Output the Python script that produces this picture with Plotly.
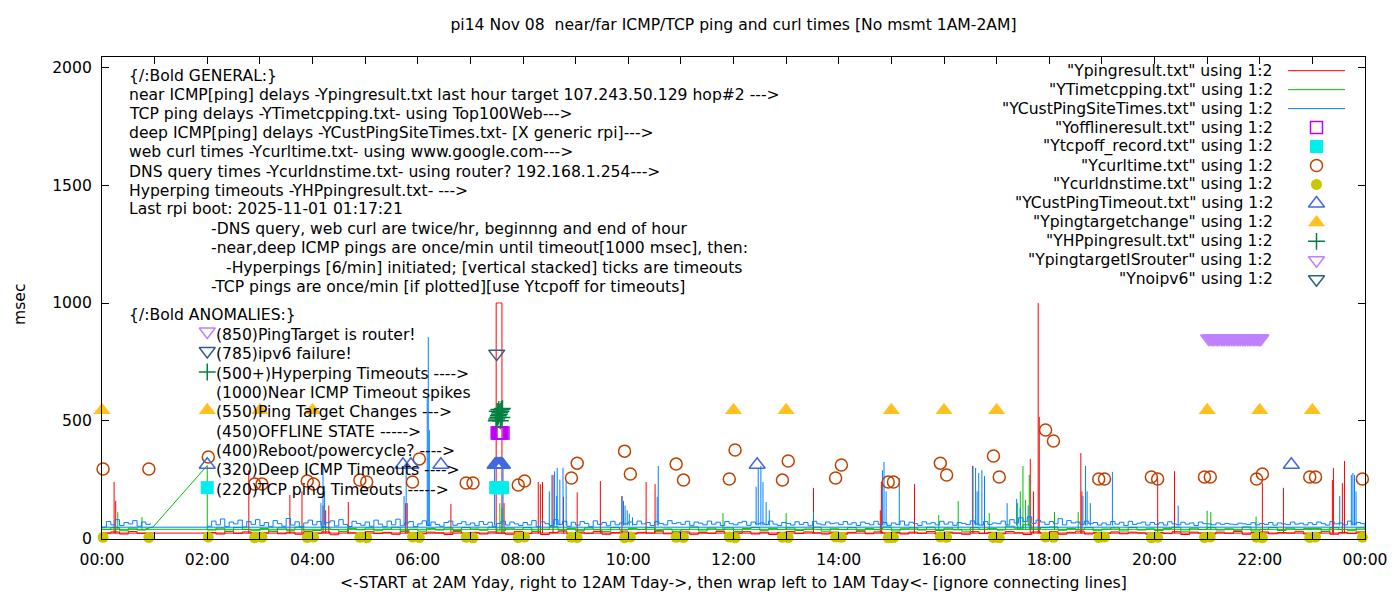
import plotly.graph_objects as go

FONT = "DejaVu Sans"
FS = 15.6

# ------------------------------------------------------------------
# Data: x = hour of day, y = msec.
# Main part runs 02:00 -> 24:00, then wraps to 00:00 -> ~01:00.
# ------------------------------------------------------------------
X_TICKS = [0, 1, 2, 3, 4, 5, 6, 7, 8, 9, 10, 11, 12, 13, 14, 15, 16, 17,
           18, 19, 20, 21, 22, 23, 24]
X_TICK_TEXT = ["00:00", "", "02:00", "", "04:00", "", "06:00", "", "08:00", "",
               "10:00", "", "12:00", "", "14:00", "", "16:00", "", "18:00", "",
               "20:00", "", "22:00", "", "00:00"]
Y_TICKS = [0, 500, 1000, 1500, 2000]

# deep ICMP (YCustPingSiteTimes) - 5 min samples, one row per hour 02..23
BLUE_MAIN = [
    [52, 74, 58, 83, 50, 70, 62, 78, 49, 72, 60, 80],
    [55, 68, 50, 76, 63, 52, 85, 57, 71, 50, 66, 78],
    [58, 72, 50, 67, 75, 53, 80, 60, 51, 73, 64, 56],
    [70, 52, 78, 61, 50, 74, 58, 82, 54, 66, 72, 50],
    [62, 75, 55, 70, 60, 52, 68, 74, 56, 63, 71, 58],
    [66, 54, 72, 60, 69, 52, 64, 74, 57, 70, 62, 55],
    [68, 58, 76, 50, 71, 63, 55, 80, 60, 73, 52, 69],
    [57, 72, 64, 50, 75, 60, 68, 54, 73, 58, 66, 62],
    [70, 59, 74, 62, 68, 55, 72, 64, 58, 76, 63, 67],
    [60, 73, 56, 70, 65, 58, 74, 61, 69, 55, 72, 63],
    [58, 67, 73, 56, 70, 62, 66, 59, 74, 61, 55, 68],
    [64, 57, 71, 60, 68, 54, 73, 62, 58, 70, 63, 66],
    [59, 72, 61, 67, 55, 70, 64, 58, 73, 60, 68, 56],
    [66, 60, 74, 57, 69, 63, 55, 71, 62, 67, 58, 73],
    [61, 70, 56, 68, 64, 59, 75, 62, 57, 72, 60, 66],
    [63, 74, 58, 80, 66, 88, 72, 92, 64, 78, 70, 60],
    [72, 62, 84, 58, 76, 66, 70, 60, 74, 63, 68, 57],
    [66, 58, 72, 61, 69, 55, 73, 60, 65, 70, 57, 68],
    [60, 67, 57, 71, 62, 58, 69, 61, 66, 55, 70, 63],
    [62, 58, 66, 60, 64, 61, 59, 65, 62, 60, 67, 58],
    [64, 60, 68, 57, 66, 62, 59, 70, 61, 65, 58, 67],
    [60, 70, 63, 57, 72, 62, 66, 58, 74, 61, 68, 63],
    [48],
]
BLUE_WRAP = [[48, 72, 58, 80, 55, 68, 62, 76, 52, 70, 60, 65]]
BLUE_SPIKE_T = [4.16, 4.20, 4.23, 5.74, 5.78, 6.18, 6.20, 6.22, 7.46, 7.62,
                8.50, 8.55, 8.60, 8.64, 8.65, 8.70, 8.76, 8.82,
                9.88, 9.91, 9.94, 9.98, 10.02, 10.08, 10.55, 10.57,
                12.43, 12.47, 12.52, 12.56, 12.62, 12.68, 13.52,
                14.83, 14.86, 14.90, 15.15, 16.54, 16.60, 16.63, 16.66, 16.72, 16.77,
                17.20, 17.38, 17.45, 17.60, 18.64, 18.69, 18.72, 18.78, 19.20,
                20.45, 23.52, 23.74, 23.77, 23.80, 23.83]
BLUE_SPIKE_V = [150, 312, 200, 180, 310, 597, 855, 460, 310, 300,
                200, 270, 285, 180, 300, 250, 300, 240,
                180, 160, 140, 120, 105, 90, 177, 308,
                220, 300, 308, 240, 155, 120, 112,
                290, 325, 200, 257, 308, 300, 200, 278, 290, 265,
                150, 168, 130, 140, 180, 308, 200, 150, 283,
                140, 180, 270, 278, 270, 200]

# near ICMP (Ypingresult) - 10 min samples, one row per hour 02..23
RED_MAIN = [
    [26, 19, 30, 22, 28, 17], [24, 31, 20, 27, 18, 29], [22, 28, 16, 30, 24, 20],
    [29, 21, 26, 18, 31, 23], [20, 27, 24, 17, 29, 22], [26, 19, 28, 23, 18, 30],
    [21, 29, 17, 26, 31, 19], [27, 22, 30, 18, 25, 28], [19, 26, 23, 31, 20, 27],
    [28, 18, 25, 22, 30, 21], [23, 29, 19, 27, 17, 26], [30, 21, 28, 24, 19, 27],
    [18, 26, 31, 20, 28, 23], [25, 19, 27, 22, 30, 18], [27, 23, 18, 29, 21, 26],
    [20, 30, 24, 17, 28, 22], [29, 18, 26, 31, 19, 25], [22, 28, 20, 27, 24, 18],
    [26, 21, 29, 17, 27, 23], [19, 27, 22, 30, 18, 26], [28, 20, 25, 23, 29, 19],
    [24, 30, 18, 26, 21, 28], [23],
]
RED_WRAP = [[23, 28, 19, 30, 22, 26]]
RED_SPIKE_T = [0.23, 0.26, 2.79, 3.57, 3.80, 4.20, 4.25, 4.31, 4.68, 5.77, 5.80,
               6.63, 7.64, 8.29, 8.33, 8.37, 8.57, 8.77, 9.03, 9.47, 9.88,
               10.34, 10.51, 13.52, 14.79, 14.81, 15.44, 16.55, 16.77,
               17.64, 17.70, 17.79, 17.81, 18.60, 18.62, 20.06, 20.38,
               22.05, 22.45, 23.38, 23.40, 23.57, 23.61]
RED_SPIKE_V = [240, 160, 290, 185, 200, 140, 120, 140, 155, 150, 150,
               147, 150, 240, 230, 240, 270, 177, 196, 244, 180,
               240, 231, 214, 120, 241, 231, 309, 257,
               338, 200, 1000, 517, 363, 200, 257, 286,
               235, 215, 248, 299, 235, 329]
# near ICMP timeouts (1000 msec) around 07:30
RED_TIMEOUT_T = [7.49, 7.51, 7.53, 7.55, 7.57, 7.60]
RED_TIMEOUT_V = [1000, 1000, 1000, 1000, 1000, 1000]

# TCP ping (YTimetcpping) - 10 min samples, one row per hour 02..23
GREEN_MAIN = [
    [36, 44, 31, 47, 38, 33], [42, 30, 45, 35, 49, 32], [34, 46, 38, 30, 43, 37],
    [45, 33, 40, 48, 31, 39], [31, 43, 36, 45, 34, 47], [40, 35, 48, 32, 44, 38],
    [46, 31, 39, 50, 35, 42], [33, 45, 37, 30, 47, 36], [43, 38, 46, 34, 40, 31],
    [37, 49, 32, 44, 36, 45], [30, 42, 47, 35, 43, 38], [45, 34, 40, 48, 31, 41],
    [38, 46, 33, 42, 37, 49], [32, 41, 45, 36, 48, 34], [44, 37, 31, 46, 39, 43],
    [36, 52, 44, 58, 40, 47], [49, 35, 42, 38, 46, 33], [40, 45, 32, 47, 36, 41],
    [34, 43, 48, 31, 44, 38], [46, 36, 41, 35, 49, 32], [39, 47, 34, 44, 37, 42],
    [43, 31, 46, 38, 33, 45], [39],
]
GREEN_WRAP = [[39, 46, 33, 44, 36, 41]]
GREEN_TAIL_T = [0.83, 0.97, 2.0]
GREEN_TAIL_V = [41, 49, 310]
GREEN_SPIKE_T = [0.30, 0.76, 2.0, 7.56, 7.60, 11.80, 13.00, 15.90, 16.27, 16.86,
                 17.40, 17.45, 17.50, 17.55, 17.62, 18.10, 18.55, 21.00, 21.07, 21.93]
GREEN_SPIKE_V = [112, 91, 310, 150, 130, 108, 108, 100, 159, 108,
                 150, 200, 308, 165, 270, 113, 112, 118, 113, 93]

# web curl times (Ycurltime) and DNS query times (Ycurldnstime)
CURL_T = [0.02, 0.89, 2.02, 2.90, 3.04, 3.90, 4.02, 4.90, 5.03, 5.90, 6.03, 6.92,
          7.05, 7.91, 8.03, 8.92, 9.03, 9.93, 10.04, 10.91, 11.05, 11.92, 12.03,
          12.93, 13.04, 13.94, 14.05, 14.94, 15.04, 15.93, 16.05, 16.94, 17.05,
          17.93, 18.08, 18.94, 19.05, 19.94, 20.06, 20.95, 21.06, 21.94, 22.05,
          22.95, 23.06, 23.95]
CURL_V = [295, 295, 346, 231, 231, 244, 231, 248, 240, 240, 338, 236,
          236, 227, 244, 257, 320, 371, 274, 316, 248, 253, 376,
          248, 329, 257, 312, 240, 240, 320, 270, 350, 261,
          461, 414, 253, 253, 261, 253, 261, 261, 253, 274,
          261, 261, 253]
DNS_V = [5, 4, 6, 3, 5, 4, 6, 5, 3, 6, 4, 5, 3, 4, 6, 5, 4, 3, 6, 5, 4, 6, 3,
         5, 4, 6, 5, 3, 4, 6, 5, 4, 3, 6, 5, 4, 6, 3, 5, 4, 6, 5, 3, 4, 6, 5]

# anomalies
OFFLINE_T = [7.51, 7.53, 7.55, 7.57, 7.59, 7.62]
OFFLINE_V = [448, 448, 448, 448, 448, 448]
TCPOFF_T = [2.0, 7.48, 7.51, 7.54, 7.57, 7.61]
TCPOFF_V = [216, 216, 216, 216, 216, 216]
DEEP_TO_T = [2.0, 5.72, 5.87, 6.44, 7.47, 7.49, 7.51, 7.53, 7.55, 7.57, 7.59, 7.61,
             12.45, 22.60]
DEEP_TO_V = [313, 313, 313, 313, 313, 313, 313, 313, 313, 313, 313, 313, 313, 313]
TARGET_T = [0, 2, 3, 4, 12, 13, 15, 16, 17, 21, 22, 23]
TARGET_V = [545, 545, 545, 545, 545, 545, 545, 545, 545, 545, 545, 545]
HP_T = [2.0, 7.49, 7.50, 7.51, 7.52, 7.53, 7.54, 7.55, 7.56, 7.57, 7.58, 7.59,
        7.60, 7.61]
HP_V = [707, 500, 507, 540, 514, 521, 548, 528, 535, 500, 540, 548, 514, 552]
ROUTER_T = [2.0, 21.03, 21.07, 21.10, 21.13, 21.17, 21.20, 21.23, 21.27, 21.30,
            21.33, 21.37, 21.40, 21.43, 21.47, 21.50, 21.53, 21.57, 21.60,
            21.63, 21.67, 21.70, 21.73, 21.77, 21.80, 21.83, 21.87, 21.90,
            21.93, 21.97, 22.00, 22.02]
ROUTER_V = [879] + [849] * 31
IPV6_T = [2.0, 7.50]
IPV6_V = [796, 785]

LEGEND_LABELS = [
    '"Ypingresult.txt" using 1:2',
    '"YTimetcpping.txt" using 1:2',
    '"YCustPingSiteTimes.txt" using 1:2',
    '"Yofflineresult.txt" using 1:2',
    '"Ytcpoff_record.txt" using 1:2',
    '"Ycurltime.txt" using 1:2',
    '"Ycurldnstime.txt" using 1:2',
    '"YCustPingTimeout.txt" using 1:2',
    '"Ypingtargetchange" using 1:2',
    '"YHPpingresult.txt" using 1:2',
    '"YpingtargetISrouter" using 1:2',
    '"Ynoipv6" using 1:2',
]

GENERAL_TEXT = [
    "{/:Bold GENERAL:}",
    "near ICMP[ping] delays -Ypingresult.txt last hour target 107.243.50.129 hop#2 ---&gt;",
    "TCP ping delays -YTimetcpping.txt- using Top100Web---&gt;",
    "deep ICMP[ping] delays -YCustPingSiteTimes.txt- [X generic rpi]---&gt;",
    "web curl times -Ycurltime.txt- using www.google.com---&gt;",
    "DNS query times -Ycurldnstime.txt- using router? 192.168.1.254---&gt;",
    "Hyperping timeouts -YHPpingresult.txt- ---&gt;",
    "Last rpi boot: 2025-11-01 01:17:21",
    "-DNS query, web curl are twice/hr, beginnng and end of hour",
    "-near,deep ICMP pings are once/min until timeout[1000 msec], then:",
    "-Hyperpings [6/min] initiated; [vertical stacked] ticks are timeouts",
    "-TCP pings are once/min [if plotted][use Ytcpoff for timeouts]",
]
ANOMALY_TEXT = [
    "(850)PingTarget is router!",
    "(785)ipv6 failure!",
    "(500+)Hyperping Timeouts ----&gt;",
    "(1000)Near ICMP Timeout spikes",
    "(550)Ping Target Changes ---&gt;",
    "(450)OFFLINE STATE -----&gt;",
    "(400)Reboot/powercycle? ----&gt;",
    "(320)Deep ICMP Timeouts ----&gt;",
    "(220)TCP ping Timeouts -----&gt;",
]

# ------------------------------------------------------------------
# colours / layout geometry
# ------------------------------------------------------------------
C_RED, C_GREEN, C_BLUE = "#ff0000", "#00c000", "#0080ff"
C_OFFLINE, C_TCPOFF = "#c000ff", "#00eeee"
C_CURL, C_DNS = "#c04000", "#c8c800"
C_DEEP, C_TARGET = "#4169e1", "#ffc020"
C_HP, C_ROUTER, C_IPV6 = "#008040", "#c080ff", "#2f5f7f"

# page body has an 8px margin, so the figure is 8px smaller each way
OFF = 8
W, H = 1400 - OFF, 600 - OFF
PL, PR, PT, PB = 102, 1365, 57, 539   # plot area, reference pixels


def px(x):
    return (x - PL) / (PR - PL)


def py(y):
    return (PB - y) / (PB - PT)


def sampled(start_h, step_min, rows):
    vals = [v for r in rows for v in r]
    times = [start_h + i * step_min / 60.0 for i in range(len(vals))]
    return times, vals


def ping_line(parts, spike_t, spike_v, floor, color, block=None):
    xs, ys = [], []
    for t, v in parts:
        xs += list(t)
        ys += list(v)
    for t, v in zip(spike_t, spike_v):
        xs += [None, t, t]
        ys += [None, floor, v]
    if block:
        bt, bv = block
        xs += [None, bt[0]] + bt + [bt[-1]]
        ys += [None, floor] + bv + [floor]
    return go.Scatter(x=xs, y=ys, mode="lines", line=dict(color=color, width=1, shape="hv"),
                      showlegend=False, hoverinfo="skip")


def marks(t, v, symbol, color, size, lw=1.5, xaxis="x", yaxis="y"):
    return go.Scatter(x=t, y=v, mode="markers", xaxis=xaxis, yaxis=yaxis,
                      marker=dict(symbol=symbol, color=color, size=size,
                                  line=dict(color=color, width=lw)),
                      cliponaxis=False, showlegend=False, hoverinfo="skip")


def main():
    red = ping_line([sampled(2, 10, RED_MAIN), sampled(0, 10, RED_WRAP)],
                    RED_SPIKE_T, RED_SPIKE_V, 22, C_RED,
                    block=(RED_TIMEOUT_T, RED_TIMEOUT_V))
    green = ping_line([sampled(2, 10, GREEN_MAIN), sampled(0, 10, GREEN_WRAP)],
                      GREEN_SPIKE_T, GREEN_SPIKE_V, 36, C_GREEN)
    green_tail = go.Scatter(x=GREEN_TAIL_T, y=GREEN_TAIL_V, mode="lines",
                            line=dict(color=C_GREEN, width=1),
                            showlegend=False, hoverinfo="skip")
    blue = ping_line([sampled(2, 5, BLUE_MAIN), sampled(0, 5, BLUE_WRAP)],
                     BLUE_SPIKE_T, BLUE_SPIKE_V, 55, C_BLUE)

    router_sym = ["triangle-down-open"] + ["triangle-down"] * (len(ROUTER_T) - 1)

    traces = [
        red, green, green_tail, blue,
        marks(OFFLINE_T, OFFLINE_V, "square-open", C_OFFLINE, 12),
        marks(TCPOFF_T, TCPOFF_V, "square", C_TCPOFF, 13, lw=0),
        marks(CURL_T, CURL_V, "circle-open", C_CURL, 12),
        marks(CURL_T, DNS_V, "circle", C_DNS, 11, lw=0),
        marks(DEEP_TO_T, DEEP_TO_V, "triangle-up-open", C_DEEP, 14),
        marks(TARGET_T, TARGET_V, "triangle-up", C_TARGET, 15, lw=0),
        marks(HP_T, HP_V, "cross-thin", C_HP, 12),
        marks(ROUTER_T, ROUTER_V, router_sym, C_ROUTER, 14),
        marks(IPV6_T, IPV6_V, "triangle-down-open", C_IPV6, 14),
    ]

    # -----------------------------
    # gnuplot style key (top right)
    # -----------------------------
    rows_y = [70.7 + i * 18.96 for i in range(len(LEGEND_LABELS))]
    sym_x = px(1316.5)
    key_syms = [
        (3, "square-open", C_OFFLINE, 12, 1.5),
        (4, "square", C_TCPOFF, 13, 0),
        (5, "circle-open", C_CURL, 12, 1.5),
        (6, "circle", C_DNS, 11, 0),
        (7, "triangle-up-open", C_DEEP, 14, 1.5),
        (8, "triangle-up", C_TARGET, 15, 0),
        (9, "cross-thin", C_HP, 12, 1.5),
        (10, "triangle-down-open", C_ROUTER, 14, 1.5),
        (11, "triangle-down-open", C_IPV6, 14, 1.5),
    ]
    for row, sym, col, size, lw in key_syms:
        traces.append(marks([sym_x], [py(rows_y[row])], sym, col, size, lw=lw,
                            xaxis="x2", yaxis="y2"))

    fig = go.Figure(data=traces)

    shapes = []
    for row, col in [(0, C_RED), (1, C_GREEN), (2, C_BLUE)]:
        shapes.append(dict(type="line", xref="paper", yref="paper",
                           x0=px(1288), x1=px(1345), y0=py(rows_y[row]), y1=py(rows_y[row]),
                           line=dict(color=col, width=1)))

    ann = []
    for lab, y in zip(LEGEND_LABELS, rows_y):
        ann.append(dict(text=lab, x=px(1275), y=py(y), xanchor="right"))

    gen_y = [75.7, 95.0, 114.3, 133.3, 152.3, 171.7, 190.7, 209.3, 229.0, 248.3, 267.7, 286.7]
    gen_x = [127, 127, 127, 127, 127, 127, 127, 127, 209, 209, 224, 209]
    for txt, x, y in zip(GENERAL_TEXT, gen_x, gen_y):
        ann.append(dict(text=txt, x=px(x), y=py(y), xanchor="left"))

    ann.append(dict(text="{/:Bold ANOMALIES:}", x=px(127), y=py(315), xanchor="left"))
    for i, txt in enumerate(ANOMALY_TEXT):
        ann.append(dict(text=txt, x=px(214), y=py(335 + i * 19.35), xanchor="left"))

    ann.append(dict(text="msec", x=px(20), y=py(305), textangle=-90, xanchor="center"))
    ann.append(dict(text="&lt;-START at 2AM Yday, right to 12AM Tday-&gt;, then wrap left to 1AM Tday&lt;- [ignore connecting lines]",
                    x=0.5, y=py(583), xanchor="center"))

    for a in ann:
        a.update(xref="paper", yref="paper", yanchor="middle", showarrow=False,
                 font=dict(family=FONT, size=FS, color="black"))

    axis_common = dict(ticks="inside", ticklen=7, tickcolor="black", tickwidth=1,
                       showline=True, linecolor="black", linewidth=1, mirror="ticks",
                       showgrid=False, zeroline=False,
                       tickfont=dict(family=FONT, size=FS, color="black"))

    fig.update_layout(
        width=W, height=H,
        paper_bgcolor="white", plot_bgcolor="white",
        margin=dict(l=PL - OFF, r=1400 - PR, t=PT - OFF, b=600 - PB),
        showlegend=False,
        title=dict(text="pi14 Nov 08  near/far ICMP/TCP ping and curl times [No msmt 1AM-2AM]",
                   x=0.5, xref="paper", y=1 - (25 - OFF) / H, yref="container", yanchor="middle",
                   font=dict(family=FONT, size=FS, color="black")),
        xaxis=dict(range=[0, 24], tickvals=X_TICKS, ticktext=X_TICK_TEXT,
                   ticklabelstandoff=6, **axis_common),
        yaxis=dict(range=[-2.1, 2044.6], tickvals=Y_TICKS, ticklabelstandoff=6, **axis_common),
        xaxis2=dict(overlaying="x", anchor="y2", range=[0, 1], visible=False),
        yaxis2=dict(overlaying="y", anchor="x2", range=[0, 1], visible=False),
        shapes=shapes,
        annotations=ann,
        font=dict(family=FONT, size=FS, color="black"),
    )

    fig.write_html("out.html")


if __name__ == "__main__":
    main()
